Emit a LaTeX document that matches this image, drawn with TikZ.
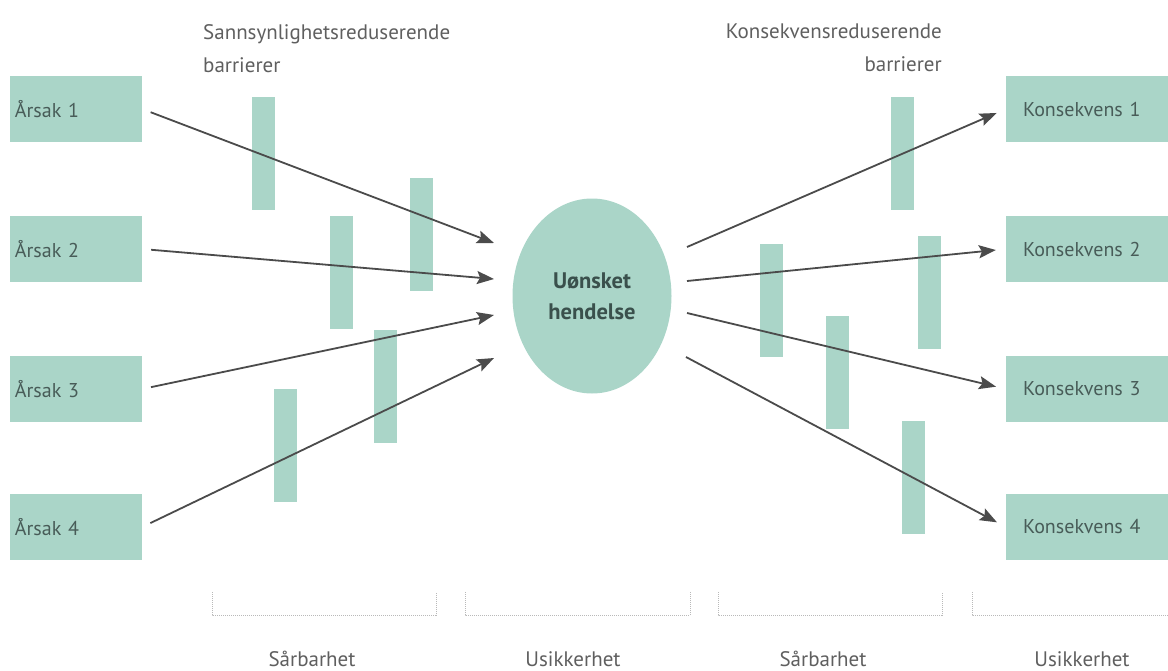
\documentclass[tikz,border=0pt]{standalone}
\usepackage{fontspec}
\setmainfont{PT Sans}
\usetikzlibrary{shapes.geometric,arrows.meta}
\definecolor{barfill}{RGB}{170,213,200}
\definecolor{boxtext}{RGB}{72,92,88}
\definecolor{eventtext}{RGB}{58,80,76}
\definecolor{labtext}{RGB}{95,95,95}
\definecolor{arrline}{RGB}{75,75,75}
\definecolor{brackline}{RGB}{185,185,185}
\tikzset{
  cause/.style={fill=barfill, minimum height=66pt, text width=122pt, inner xsep=5pt,
    align=left, text=boxtext, font=\fontsize{20}{22}\selectfont},
  conseq/.style={cause, text width=128pt, inner xsep=17pt},
  barrier/.style={fill=barfill, minimum width=23pt, minimum height=113pt, inner sep=0pt},
  event/.style={ellipse, fill=barfill, minimum width=159pt, minimum height=195pt,
    align=center, text=eventtext, font=\fontsize{22.5}{31}\selectfont\bfseries},
  flow/.style={draw=arrline, line width=1.8pt, -{Stealth[length=17pt,width=13pt,inset=3pt]}},
  caption/.style={inner sep=0pt, text=labtext, font=\fontsize{21}{33}\selectfont},
  bracket/.style={draw=brackline, line width=1pt, densely dotted}
}
\begin{document}
\begin{tikzpicture}[x=1pt, y=-1pt]
\useasboundingbox (0,0) rectangle (1168,670);

\node[caption, anchor=north west, align=left] (plab) at (203,24) {Sannsynlighetsreduserende\\barrierer};
\node[caption, anchor=north east, align=right] (klab) at (942,24) {Konsekvensreduserende\\barrierer};

\node[cause] (a1) at (76,109) {Årsak 1};
\node[cause] (a2) at (76,249) {Årsak 2};
\node[cause] (a3) at (76,389) {Årsak 3};
\node[cause] (a4) at (76,527) {Årsak 4};

\node[conseq] (k1) at (1087,109) {Konsekvens 1};
\node[conseq] (k2) at (1087,249) {Konsekvens 2};
\node[conseq] (k3) at (1087,389) {Konsekvens 3};
\node[conseq] (k4) at (1087,527) {Konsekvens 4};

\node[event] (ev) at (592,296) {Uønsket\\hendelse};

\node[barrier] (b1) at (263.5,153.5) {};
\node[barrier] (b2) at (341,272) {};
\node[barrier] (b3) at (421,234.5) {};
\node[barrier] (b4) at (385,386) {};
\node[barrier] (b5) at (285,445) {};
\node[barrier] (b6) at (902,153.5) {};
\node[barrier] (b7) at (771.5,300.5) {};
\node[barrier] (b8) at (929,292.5) {};
\node[barrier] (b9) at (837.5,372) {};
\node[barrier] (b10) at (913.5,477.5) {};

\coordinate (in1) at (494,243);
\coordinate (in2) at (494,279);
\coordinate (in3) at (494,315);
\coordinate (in4) at (494,358);
\coordinate (out1) at (687,247);
\coordinate (out2) at (687,281);
\coordinate (out3) at (687,313);
\coordinate (out4) at (686,357);

\path[every edge/.style={flow}]
  (a1.east) edge[shorten <=9pt] (in1)
  (a2.east) edge[shorten <=9pt] (in2)
  (a3.east) edge[shorten <=9pt] (in3)
  (a4.east) edge[shorten <=9pt] (in4)
  (out1) edge[shorten >=10pt] (k1.west)
  (out2) edge[shorten >=10pt] (k2.west)
  (out3) edge[shorten >=10pt] (k3.west)
  (out4) edge[shorten >=10pt] (k4.west);

\draw[bracket] (212,592) |- (436,615) -- (436,592);
\draw[bracket] (465,592) |- (690,615) -- (690,592);
\draw[bracket] (718,592) |- (942,615) -- (942,592);
\draw[bracket] (972,592) |- (1168,615);

\node[caption, anchor=base] (s1) at (312,666) {Sårbarhet};
\node[caption, anchor=base] (u1) at (573,666) {Usikkerhet};
\node[caption, anchor=base] (s2) at (823,666) {Sårbarhet};
\node[caption, anchor=base] (u2) at (1082,666) {Usikkerhet};
\end{tikzpicture}
\end{document}
